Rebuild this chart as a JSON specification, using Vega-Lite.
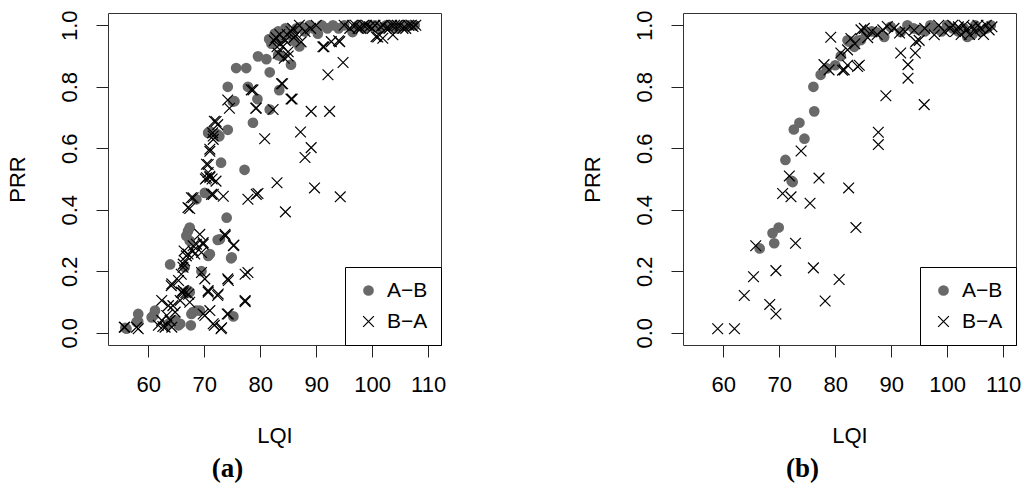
{
  "$schema": "https://vega.github.io/schema/vega-lite/v6.json",
  "padding": {"left": 5, "top": 9, "right": 0, "bottom": 0},
  "background": "white",
  "datasets": {
    "a": [
      {"lqi":55.9,"prr":0.016,"dir":"A−B"},{"lqi":56.1,"prr":0.013,"dir":"A−B"},{"lqi":57.9,"prr":0.035,"dir":"A−B"},{"lqi":58.2,"prr":0.061,"dir":"A−B"},{"lqi":58.2,"prr":0.036,"dir":"A−B"},{"lqi":60.6,"prr":0.05,"dir":"A−B"},{"lqi":60.9,"prr":0.056,"dir":"A−B"},{"lqi":61.2,"prr":0.072,"dir":"A−B"},{"lqi":63.6,"prr":0.029,"dir":"A−B"},{"lqi":63.9,"prr":0.222,"dir":"A−B"},{"lqi":64.8,"prr":0.04,"dir":"A−B"},{"lqi":65.4,"prr":0.024,"dir":"A−B"},{"lqi":65.7,"prr":0.029,"dir":"A−B"},{"lqi":66.5,"prr":0.213,"dir":"A−B"},{"lqi":66.8,"prr":0.315,"dir":"A−B"},{"lqi":67.1,"prr":0.331,"dir":"A−B"},{"lqi":67.4,"prr":0.342,"dir":"A−B"},{"lqi":67.4,"prr":0.299,"dir":"A−B"},{"lqi":67.1,"prr":0.137,"dir":"A−B"},{"lqi":67.4,"prr":0.132,"dir":"A−B"},{"lqi":67.6,"prr":0.024,"dir":"A−B"},{"lqi":67.7,"prr":0.061,"dir":"A−B"},{"lqi":68.0,"prr":0.067,"dir":"A−B"},{"lqi":68.6,"prr":0.072,"dir":"A−B"},{"lqi":69.2,"prr":0.072,"dir":"A−B"},{"lqi":69.5,"prr":0.2,"dir":"A−B"},{"lqi":68.6,"prr":0.434,"dir":"A−B"},{"lqi":70.1,"prr":0.455,"dir":"A−B"},{"lqi":70.7,"prr":0.25,"dir":"A−B"},{"lqi":71.0,"prr":0.256,"dir":"A−B"},{"lqi":72.4,"prr":0.302,"dir":"A−B"},{"lqi":72.8,"prr":0.304,"dir":"A−B"},{"lqi":74.0,"prr":0.374,"dir":"A−B"},{"lqi":74.9,"prr":0.245,"dir":"A−B"},{"lqi":74.8,"prr":0.242,"dir":"A−B"},{"lqi":75.2,"prr":0.053,"dir":"A−B"},{"lqi":70.7,"prr":0.65,"dir":"A−B"},{"lqi":71.0,"prr":0.655,"dir":"A−B"},{"lqi":72.4,"prr":0.645,"dir":"A−B"},{"lqi":72.7,"prr":0.639,"dir":"A−B"},{"lqi":73.0,"prr":0.553,"dir":"A−B"},{"lqi":74.2,"prr":0.66,"dir":"A−B"},{"lqi":74.2,"prr":0.8,"dir":"A−B"},{"lqi":75.1,"prr":0.752,"dir":"A−B"},{"lqi":75.4,"prr":0.753,"dir":"A−B"},{"lqi":75.7,"prr":0.861,"dir":"A−B"},{"lqi":77.5,"prr":0.861,"dir":"A−B"},{"lqi":77.2,"prr":0.53,"dir":"A−B"},{"lqi":77.8,"prr":0.8,"dir":"A−B"},{"lqi":78.7,"prr":0.683,"dir":"A−B"},{"lqi":79.5,"prr":0.76,"dir":"A−B"},{"lqi":79.6,"prr":0.899,"dir":"A−B"},{"lqi":81.1,"prr":0.89,"dir":"A−B"},{"lqi":81.7,"prr":0.847,"dir":"A−B"},{"lqi":81.7,"prr":0.726,"dir":"A−B"},{"lqi":83.4,"prr":0.789,"dir":"A−B"},{"lqi":83.2,"prr":0.903,"dir":"A−B"},{"lqi":83.8,"prr":0.899,"dir":"A−B"},{"lqi":85.5,"prr":0.872,"dir":"A−B"},{"lqi":87.0,"prr":0.931,"dir":"A−B"},{"lqi":81.6,"prr":0.955,"dir":"A−B"},{"lqi":82.0,"prr":0.94,"dir":"A−B"},{"lqi":82.3,"prr":0.958,"dir":"A−B"},{"lqi":82.6,"prr":0.973,"dir":"A−B"},{"lqi":83.2,"prr":0.98,"dir":"A−B"},{"lqi":84.0,"prr":0.96,"dir":"A−B"},{"lqi":84.5,"prr":0.99,"dir":"A−B"},{"lqi":85.2,"prr":0.97,"dir":"A−B"},{"lqi":86.0,"prr":0.95,"dir":"A−B"},{"lqi":86.5,"prr":0.99,"dir":"A−B"},{"lqi":87.3,"prr":0.995,"dir":"A−B"},{"lqi":88.0,"prr":0.98,"dir":"A−B"},{"lqi":88.8,"prr":1.0,"dir":"A−B"},{"lqi":89.5,"prr":0.99,"dir":"A−B"},{"lqi":90.3,"prr":0.973,"dir":"A−B"},{"lqi":91.0,"prr":1.0,"dir":"A−B"},{"lqi":92.0,"prr":0.99,"dir":"A−B"},{"lqi":93.0,"prr":1.0,"dir":"A−B"},{"lqi":94.0,"prr":0.99,"dir":"A−B"},{"lqi":95.0,"prr":1.0,"dir":"A−B"},{"lqi":96.5,"prr":0.978,"dir":"A−B"},{"lqi":97.5,"prr":1.0,"dir":"A−B"},{"lqi":98.5,"prr":0.99,"dir":"A−B"},{"lqi":99.5,"prr":1.0,"dir":"A−B"},{"lqi":100.5,"prr":1.0,"dir":"A−B"},{"lqi":101.5,"prr":0.99,"dir":"A−B"},{"lqi":102.5,"prr":1.0,"dir":"A−B"},{"lqi":103.5,"prr":1.0,"dir":"A−B"},{"lqi":104.5,"prr":0.99,"dir":"A−B"},{"lqi":105.5,"prr":1.0,"dir":"A−B"},{"lqi":106.5,"prr":1.0,"dir":"A−B"},{"lqi":107.6,"prr":1.0,"dir":"A−B"},
      {"lqi":55.7,"prr":0.018,"dir":"B−A"},{"lqi":55.8,"prr":0.018,"dir":"B−A"},{"lqi":57.9,"prr":0.018,"dir":"B−A"},{"lqi":58.2,"prr":0.013,"dir":"B−A"},{"lqi":61.8,"prr":0.024,"dir":"B−A"},{"lqi":62.4,"prr":0.04,"dir":"B−A"},{"lqi":62.4,"prr":0.105,"dir":"B−A"},{"lqi":62.6,"prr":0.02,"dir":"B−A"},{"lqi":63.0,"prr":0.018,"dir":"B−A"},{"lqi":63.3,"prr":0.056,"dir":"B−A"},{"lqi":63.6,"prr":0.088,"dir":"B−A"},{"lqi":63.9,"prr":0.04,"dir":"B−A"},{"lqi":64.2,"prr":0.018,"dir":"B−A"},{"lqi":64.4,"prr":0.088,"dir":"B−A"},{"lqi":64.8,"prr":0.067,"dir":"B−A"},{"lqi":64.2,"prr":0.159,"dir":"B−A"},{"lqi":64.1,"prr":0.153,"dir":"B−A"},{"lqi":65.4,"prr":0.17,"dir":"B−A"},{"lqi":65.7,"prr":0.105,"dir":"B−A"},{"lqi":65.9,"prr":0.132,"dir":"B−A"},{"lqi":65.9,"prr":0.19,"dir":"B−A"},{"lqi":66.2,"prr":0.13,"dir":"B−A"},{"lqi":66.25,"prr":0.137,"dir":"B−A"},{"lqi":66.7,"prr":0.13,"dir":"B−A"},{"lqi":67.2,"prr":0.125,"dir":"B−A"},{"lqi":67.4,"prr":0.099,"dir":"B−A"},{"lqi":66.25,"prr":0.223,"dir":"B−A"},{"lqi":66.2,"prr":0.213,"dir":"B−A"},{"lqi":66.5,"prr":0.234,"dir":"B−A"},{"lqi":66.8,"prr":0.25,"dir":"B−A"},{"lqi":66.4,"prr":0.266,"dir":"B−A"},{"lqi":67.1,"prr":0.256,"dir":"B−A"},{"lqi":68.0,"prr":0.266,"dir":"B−A"},{"lqi":68.3,"prr":0.256,"dir":"B−A"},{"lqi":68.0,"prr":0.283,"dir":"B−A"},{"lqi":68.6,"prr":0.288,"dir":"B−A"},{"lqi":69.8,"prr":0.288,"dir":"B−A"},{"lqi":69.5,"prr":0.261,"dir":"B−A"},{"lqi":69.2,"prr":0.32,"dir":"B−A"},{"lqi":69.8,"prr":0.293,"dir":"B−A"},{"lqi":69.5,"prr":0.196,"dir":"B−A"},{"lqi":70.1,"prr":0.175,"dir":"B−A"},{"lqi":70.7,"prr":0.137,"dir":"B−A"},{"lqi":70.7,"prr":0.132,"dir":"B−A"},{"lqi":72.5,"prr":0.126,"dir":"B−A"},{"lqi":72.4,"prr":0.121,"dir":"B−A"},{"lqi":71.0,"prr":0.072,"dir":"B−A"},{"lqi":69.8,"prr":0.061,"dir":"B−A"},{"lqi":70.1,"prr":0.056,"dir":"B−A"},{"lqi":71.6,"prr":0.029,"dir":"B−A"},{"lqi":71.8,"prr":0.024,"dir":"B−A"},{"lqi":73.1,"prr":0.016,"dir":"B−A"},{"lqi":73.0,"prr":0.013,"dir":"B−A"},{"lqi":74.3,"prr":0.17,"dir":"B−A"},{"lqi":74.2,"prr":0.175,"dir":"B−A"},{"lqi":74.1,"prr":0.061,"dir":"B−A"},{"lqi":74.3,"prr":0.061,"dir":"B−A"},{"lqi":73.7,"prr":0.32,"dir":"B−A"},{"lqi":73.75,"prr":0.315,"dir":"B−A"},{"lqi":75.2,"prr":0.283,"dir":"B−A"},{"lqi":75.3,"prr":0.285,"dir":"B−A"},{"lqi":77.3,"prr":0.19,"dir":"B−A"},{"lqi":77.8,"prr":0.196,"dir":"B−A"},{"lqi":77.3,"prr":0.105,"dir":"B−A"},{"lqi":77.3,"prr":0.101,"dir":"B−A"},
      {"lqi":67.1,"prr":0.407,"dir":"B−A"},{"lqi":67.4,"prr":0.404,"dir":"B−A"},{"lqi":67.7,"prr":0.439,"dir":"B−A"},{"lqi":68.0,"prr":0.439,"dir":"B−A"},{"lqi":71.3,"prr":0.45,"dir":"B−A"},{"lqi":71.6,"prr":0.45,"dir":"B−A"},{"lqi":73.4,"prr":0.444,"dir":"B−A"},{"lqi":77.8,"prr":0.434,"dir":"B−A"},{"lqi":79.3,"prr":0.45,"dir":"B−A"},{"lqi":79.6,"prr":0.453,"dir":"B−A"},{"lqi":70.4,"prr":0.504,"dir":"B−A"},{"lqi":70.2,"prr":0.5,"dir":"B−A"},{"lqi":71.0,"prr":0.505,"dir":"B−A"},{"lqi":71.4,"prr":0.5,"dir":"B−A"},{"lqi":70.7,"prr":0.521,"dir":"B−A"},{"lqi":70.4,"prr":0.548,"dir":"B−A"},{"lqi":70.7,"prr":0.547,"dir":"B−A"},{"lqi":71.0,"prr":0.509,"dir":"B−A"},{"lqi":72.1,"prr":0.493,"dir":"B−A"},{"lqi":71.0,"prr":0.59,"dir":"B−A"},{"lqi":71.0,"prr":0.597,"dir":"B−A"},{"lqi":71.5,"prr":0.65,"dir":"B−A"},{"lqi":71.6,"prr":0.64,"dir":"B−A"},{"lqi":71.6,"prr":0.629,"dir":"B−A"},{"lqi":71.8,"prr":0.688,"dir":"B−A"},{"lqi":72.1,"prr":0.687,"dir":"B−A"},{"lqi":72.4,"prr":0.677,"dir":"B−A"},{"lqi":74.2,"prr":0.757,"dir":"B−A"},{"lqi":74.5,"prr":0.73,"dir":"B−A"},{"lqi":78.4,"prr":0.79,"dir":"B−A"},{"lqi":78.7,"prr":0.79,"dir":"B−A"},{"lqi":79.3,"prr":0.731,"dir":"B−A"},{"lqi":79.2,"prr":0.73,"dir":"B−A"},{"lqi":80.8,"prr":0.631,"dir":"B−A"},{"lqi":82.3,"prr":0.726,"dir":"B−A"},{"lqi":83.8,"prr":0.81,"dir":"B−A"},{"lqi":84.0,"prr":0.81,"dir":"B−A"},{"lqi":85.5,"prr":0.76,"dir":"B−A"},{"lqi":85.7,"prr":0.76,"dir":"B−A"},{"lqi":83.0,"prr":0.488,"dir":"B−A"},{"lqi":84.5,"prr":0.393,"dir":"B−A"},{"lqi":89.7,"prr":0.471,"dir":"B−A"},{"lqi":94.3,"prr":0.442,"dir":"B−A"},{"lqi":87.2,"prr":0.653,"dir":"B−A"},{"lqi":89.1,"prr":0.602,"dir":"B−A"},{"lqi":88.0,"prr":0.57,"dir":"B−A"},{"lqi":89.1,"prr":0.72,"dir":"B−A"},{"lqi":92.4,"prr":0.72,"dir":"B−A"},{"lqi":92.1,"prr":0.839,"dir":"B−A"},{"lqi":94.8,"prr":0.879,"dir":"B−A"},
      {"lqi":82.5,"prr":0.95,"dir":"B−A"},{"lqi":83.0,"prr":0.93,"dir":"B−A"},{"lqi":83.2,"prr":0.909,"dir":"B−A"},{"lqi":83.5,"prr":0.97,"dir":"B−A"},{"lqi":84.0,"prr":0.93,"dir":"B−A"},{"lqi":84.3,"prr":0.893,"dir":"B−A"},{"lqi":84.5,"prr":0.95,"dir":"B−A"},{"lqi":85.0,"prr":0.914,"dir":"B−A"},{"lqi":85.0,"prr":0.9,"dir":"B−A"},{"lqi":85.5,"prr":0.98,"dir":"B−A"},{"lqi":86.0,"prr":0.96,"dir":"B−A"},{"lqi":87.0,"prr":1.0,"dir":"B−A"},{"lqi":87.3,"prr":0.946,"dir":"B−A"},{"lqi":88.0,"prr":0.98,"dir":"B−A"},{"lqi":89.0,"prr":0.99,"dir":"B−A"},{"lqi":90.0,"prr":1.0,"dir":"B−A"},{"lqi":91.2,"prr":0.93,"dir":"B−A"},{"lqi":91.4,"prr":0.93,"dir":"B−A"},{"lqi":92.7,"prr":0.947,"dir":"B−A"},{"lqi":94.0,"prr":0.95,"dir":"B−A"},{"lqi":94.2,"prr":0.947,"dir":"B−A"},{"lqi":95.0,"prr":1.0,"dir":"B−A"},{"lqi":96.0,"prr":0.99,"dir":"B−A"},{"lqi":97.0,"prr":1.0,"dir":"B−A"},{"lqi":98.0,"prr":0.99,"dir":"B−A"},{"lqi":99.0,"prr":1.0,"dir":"B−A"},{"lqi":100.0,"prr":0.99,"dir":"B−A"},{"lqi":100.7,"prr":0.963,"dir":"B−A"},{"lqi":101.0,"prr":0.962,"dir":"B−A"},{"lqi":101.9,"prr":0.958,"dir":"B−A"},{"lqi":102.0,"prr":1.0,"dir":"B−A"},{"lqi":103.0,"prr":0.99,"dir":"B−A"},{"lqi":103.7,"prr":0.969,"dir":"B−A"},{"lqi":104.0,"prr":1.0,"dir":"B−A"},{"lqi":105.0,"prr":1.0,"dir":"B−A"},{"lqi":106.0,"prr":0.99,"dir":"B−A"},{"lqi":107.0,"prr":1.0,"dir":"B−A"},{"lqi":107.3,"prr":0.996,"dir":"B−A"},{"lqi":96.5,"prr":1.0,"dir":"B−A"},{"lqi":97.5,"prr":0.99,"dir":"B−A"},{"lqi":98.5,"prr":1.0,"dir":"B−A"},{"lqi":99.5,"prr":0.995,"dir":"B−A"},{"lqi":100.5,"prr":1.0,"dir":"B−A"},{"lqi":101.5,"prr":0.995,"dir":"B−A"},{"lqi":102.5,"prr":0.99,"dir":"B−A"},{"lqi":103.5,"prr":1.0,"dir":"B−A"},{"lqi":104.5,"prr":1.0,"dir":"B−A"},{"lqi":105.5,"prr":0.99,"dir":"B−A"},{"lqi":106.5,"prr":1.0,"dir":"B−A"},{"lqi":107.8,"prr":1.0,"dir":"B−A"},{"lqi":82.8,"prr":0.96,"dir":"B−A"},{"lqi":83.6,"prr":0.94,"dir":"B−A"},{"lqi":84.8,"prr":0.97,"dir":"B−A"},{"lqi":85.8,"prr":0.99,"dir":"B−A"},{"lqi":86.5,"prr":0.97,"dir":"B−A"}
    ],
    "b": [
      {"lqi":66.5,"prr":0.274,"dir":"A−B"},{"lqi":68.8,"prr":0.324,"dir":"A−B"},{"lqi":69.1,"prr":0.291,"dir":"A−B"},{"lqi":69.9,"prr":0.342,"dir":"A−B"},{"lqi":71.1,"prr":0.562,"dir":"A−B"},{"lqi":72.2,"prr":0.494,"dir":"A−B"},{"lqi":72.4,"prr":0.49,"dir":"A−B"},{"lqi":72.6,"prr":0.661,"dir":"A−B"},{"lqi":73.6,"prr":0.683,"dir":"A−B"},{"lqi":74.5,"prr":0.631,"dir":"A−B"},{"lqi":76.1,"prr":0.8,"dir":"A−B"},{"lqi":76.25,"prr":0.72,"dir":"A−B"},{"lqi":77.4,"prr":0.839,"dir":"A−B"},{"lqi":78.5,"prr":0.86,"dir":"A−B"},{"lqi":80.0,"prr":0.87,"dir":"A−B"},{"lqi":81.0,"prr":0.9,"dir":"A−B"},{"lqi":82.2,"prr":0.951,"dir":"A−B"},{"lqi":82.5,"prr":0.947,"dir":"A−B"},{"lqi":83.4,"prr":0.93,"dir":"A−B"},{"lqi":84.0,"prr":0.95,"dir":"A−B"},{"lqi":84.6,"prr":0.952,"dir":"A−B"},{"lqi":85.5,"prr":0.975,"dir":"A−B"},{"lqi":86.5,"prr":0.98,"dir":"A−B"},{"lqi":87.3,"prr":0.978,"dir":"A−B"},{"lqi":88.75,"prr":0.962,"dir":"A−B"},{"lqi":89.9,"prr":0.995,"dir":"A−B"},{"lqi":91.7,"prr":0.978,"dir":"A−B"},{"lqi":92.9,"prr":1.0,"dir":"A−B"},{"lqi":94.0,"prr":0.99,"dir":"A−B"},{"lqi":95.0,"prr":0.985,"dir":"A−B"},{"lqi":96.0,"prr":0.98,"dir":"A−B"},{"lqi":97.0,"prr":1.0,"dir":"A−B"},{"lqi":98.0,"prr":0.99,"dir":"A−B"},{"lqi":99.0,"prr":0.98,"dir":"A−B"},{"lqi":100.0,"prr":1.0,"dir":"A−B"},{"lqi":101.0,"prr":0.99,"dir":"A−B"},{"lqi":102.0,"prr":0.98,"dir":"A−B"},{"lqi":103.0,"prr":0.99,"dir":"A−B"},{"lqi":103.6,"prr":0.962,"dir":"A−B"},{"lqi":104.5,"prr":0.97,"dir":"A−B"},{"lqi":105.0,"prr":1.0,"dir":"A−B"},{"lqi":106.0,"prr":0.98,"dir":"A−B"},{"lqi":107.0,"prr":0.99,"dir":"A−B"},{"lqi":107.8,"prr":1.0,"dir":"A−B"},
      {"lqi":59.0,"prr":0.013,"dir":"B−A"},{"lqi":62.0,"prr":0.013,"dir":"B−A"},{"lqi":63.75,"prr":0.121,"dir":"B−A"},{"lqi":65.4,"prr":0.182,"dir":"B−A"},{"lqi":65.8,"prr":0.283,"dir":"B−A"},{"lqi":68.3,"prr":0.092,"dir":"B−A"},{"lqi":69.4,"prr":0.202,"dir":"B−A"},{"lqi":69.4,"prr":0.061,"dir":"B−A"},{"lqi":70.6,"prr":0.453,"dir":"B−A"},{"lqi":71.8,"prr":0.51,"dir":"B−A"},{"lqi":72.1,"prr":0.442,"dir":"B−A"},{"lqi":72.9,"prr":0.291,"dir":"B−A"},{"lqi":73.9,"prr":0.591,"dir":"B−A"},{"lqi":75.5,"prr":0.421,"dir":"B−A"},{"lqi":76.1,"prr":0.211,"dir":"B−A"},{"lqi":77.1,"prr":0.503,"dir":"B−A"},{"lqi":78.2,"prr":0.103,"dir":"B−A"},{"lqi":80.7,"prr":0.173,"dir":"B−A"},{"lqi":82.4,"prr":0.471,"dir":"B−A"},{"lqi":83.7,"prr":0.342,"dir":"B−A"},{"lqi":87.7,"prr":0.652,"dir":"B−A"},{"lqi":87.7,"prr":0.612,"dir":"B−A"},{"lqi":89.05,"prr":0.771,"dir":"B−A"},{"lqi":95.9,"prr":0.742,"dir":"B−A"},{"lqi":78.0,"prr":0.872,"dir":"B−A"},{"lqi":78.9,"prr":0.855,"dir":"B−A"},{"lqi":79.2,"prr":0.961,"dir":"B−A"},{"lqi":81.3,"prr":0.854,"dir":"B−A"},{"lqi":81.0,"prr":0.91,"dir":"B−A"},{"lqi":81.6,"prr":0.855,"dir":"B−A"},{"lqi":82.2,"prr":0.92,"dir":"B−A"},{"lqi":82.2,"prr":0.87,"dir":"B−A"},{"lqi":84.0,"prr":0.866,"dir":"B−A"},{"lqi":84.3,"prr":0.87,"dir":"B−A"},{"lqi":82.8,"prr":0.957,"dir":"B−A"},{"lqi":84.6,"prr":0.985,"dir":"B−A"},{"lqi":85.2,"prr":0.99,"dir":"B−A"},{"lqi":86.5,"prr":0.98,"dir":"B−A"},{"lqi":87.5,"prr":0.97,"dir":"B−A"},{"lqi":89.3,"prr":0.996,"dir":"B−A"},{"lqi":91.7,"prr":0.91,"dir":"B−A"},{"lqi":94.3,"prr":0.91,"dir":"B−A"},{"lqi":93.0,"prr":0.872,"dir":"B−A"},{"lqi":93.0,"prr":0.828,"dir":"B−A"},{"lqi":94.4,"prr":0.947,"dir":"B−A"},{"lqi":94.1,"prr":0.984,"dir":"B−A"},{"lqi":95.0,"prr":0.951,"dir":"B−A"},{"lqi":96.0,"prr":0.99,"dir":"B−A"},{"lqi":97.7,"prr":0.969,"dir":"B−A"},{"lqi":98.5,"prr":1.0,"dir":"B−A"},{"lqi":99.5,"prr":0.98,"dir":"B−A"},{"lqi":100.5,"prr":0.99,"dir":"B−A"},{"lqi":101.0,"prr":1.0,"dir":"B−A"},{"lqi":101.5,"prr":0.98,"dir":"B−A"},{"lqi":102.0,"prr":0.995,"dir":"B−A"},{"lqi":102.5,"prr":0.97,"dir":"B−A"},{"lqi":103.0,"prr":1.0,"dir":"B−A"},{"lqi":103.5,"prr":0.985,"dir":"B−A"},{"lqi":104.0,"prr":0.97,"dir":"B−A"},{"lqi":104.5,"prr":0.995,"dir":"B−A"},{"lqi":105.0,"prr":0.98,"dir":"B−A"},{"lqi":105.5,"prr":1.0,"dir":"B−A"},{"lqi":106.0,"prr":0.99,"dir":"B−A"},{"lqi":106.5,"prr":0.97,"dir":"B−A"},{"lqi":107.0,"prr":1.0,"dir":"B−A"},{"lqi":107.5,"prr":0.985,"dir":"B−A"},{"lqi":108.0,"prr":0.995,"dir":"B−A"},{"lqi":88.5,"prr":0.985,"dir":"B−A"},{"lqi":90.5,"prr":0.99,"dir":"B−A"},{"lqi":91.5,"prr":0.975,"dir":"B−A"},{"lqi":92.5,"prr":0.98,"dir":"B−A"},{"lqi":83.5,"prr":0.94,"dir":"B−A"},{"lqi":85.8,"prr":0.96,"dir":"B−A"}
    ]
  },
  "hconcat": [
    {
      "data": {"name": "a"},
      "width": 333,
      "height": 332,
      "title": {"text": "(a)", "orient": "bottom", "anchor": "middle", "dx": -47, "offset": 10, "font": "Liberation Serif", "fontSize": 27, "fontWeight": "bold", "color": "black"},
      "mark": {"type": "point", "strokeWidth": 1.2, "opacity": 1, "size": 115},
      "encoding": {
        "x": {"field": "lqi", "type": "quantitative", "title": "LQI", "scale": {"domain": [52.8, 112.3], "nice": false, "zero": false}, "axis": {"values": [60, 70, 80, 90, 100, 110]}},
        "y": {"field": "prr", "type": "quantitative", "title": "PRR", "scale": {"domain": [-0.04, 1.04], "nice": false, "zero": false}, "axis": {"values": [0, 0.2, 0.4, 0.6, 0.8, 1.0], "format": ".1f"}},
        "shape": {"field": "dir", "type": "nominal", "scale": {"domain": ["A−B", "B−A"], "range": ["circle", "M-1,-1L1,1M-1,1L1,-1"]}, "legend": {"title": null}},
        "fill": {"field": "dir", "type": "nominal", "scale": {"domain": ["A−B", "B−A"], "range": ["#696969", "transparent"]}, "legend": {"title": null}},
        "stroke": {"field": "dir", "type": "nominal", "scale": {"domain": ["A−B", "B−A"], "range": ["transparent", "black"]}, "legend": {"title": null}}
      }
    },
    {
      "data": {"name": "b"},
      "width": 333,
      "height": 332,
      "title": {"text": "(b)", "orient": "bottom", "anchor": "middle", "dx": -47, "offset": 10, "font": "Liberation Serif", "fontSize": 27, "fontWeight": "bold", "color": "black"},
      "mark": {"type": "point", "strokeWidth": 1.2, "opacity": 1, "size": 115},
      "encoding": {
        "x": {"field": "lqi", "type": "quantitative", "title": "LQI", "scale": {"domain": [52.8, 112.3], "nice": false, "zero": false}, "axis": {"values": [60, 70, 80, 90, 100, 110]}},
        "y": {"field": "prr", "type": "quantitative", "title": "PRR", "scale": {"domain": [-0.04, 1.04], "nice": false, "zero": false}, "axis": {"values": [0, 0.2, 0.4, 0.6, 0.8, 1.0], "format": ".1f"}},
        "shape": {"field": "dir", "type": "nominal", "scale": {"domain": ["A−B", "B−A"], "range": ["circle", "M-1,-1L1,1M-1,1L1,-1"]}, "legend": {"title": null}},
        "fill": {"field": "dir", "type": "nominal", "scale": {"domain": ["A−B", "B−A"], "range": ["#696969", "transparent"]}, "legend": {"title": null}},
        "stroke": {"field": "dir", "type": "nominal", "scale": {"domain": ["A−B", "B−A"], "range": ["transparent", "black"]}, "legend": {"title": null}}
      }
    }
  ],
  "spacing": 133,
  "resolve": {
    "scale": {"shape": "independent", "fill": "independent", "stroke": "independent", "x": "independent", "y": "independent"},
    "legend": {"shape": "independent", "fill": "independent", "stroke": "independent"}
  },
  "config": {
    "view": {"stroke": "#333333", "strokeWidth": 1},
    "font": "Liberation Sans",
    "axis": {
      "grid": false,
      "domain": false,
      "ticks": true,
      "tickSize": 12,
      "tickColor": "#222222",
      "tickWidth": 1,
      "labelFont": "Liberation Sans",
      "labelFontSize": 22,
      "labelColor": "black",
      "titleFont": "Liberation Sans",
      "titleFontSize": 22,
      "titleFontWeight": "normal",
      "titleColor": "black"
    },
    "axisX": {"labelPadding": 17, "labelBaseline": "top", "titlePadding": 30},
    "axisY": {"labelAngle": -90, "labelAlign": "center", "labelBaseline": "alphabetic", "labelPadding": 20, "titlePadding": 29},
    "legend": {
      "orient": "bottom-right",
      "offset": 0,
      "padding": 13,
      "strokeColor": "black",
      "fillColor": "white",
      "labelFont": "Liberation Sans",
      "labelFontSize": 21,
      "labelColor": "black",
      "labelOffset": 8,
      "rowPadding": 9,
      "symbolSize": 115,
      "symbolStrokeWidth": 1.2,
      "cornerRadius": 0
    }
  }
}
